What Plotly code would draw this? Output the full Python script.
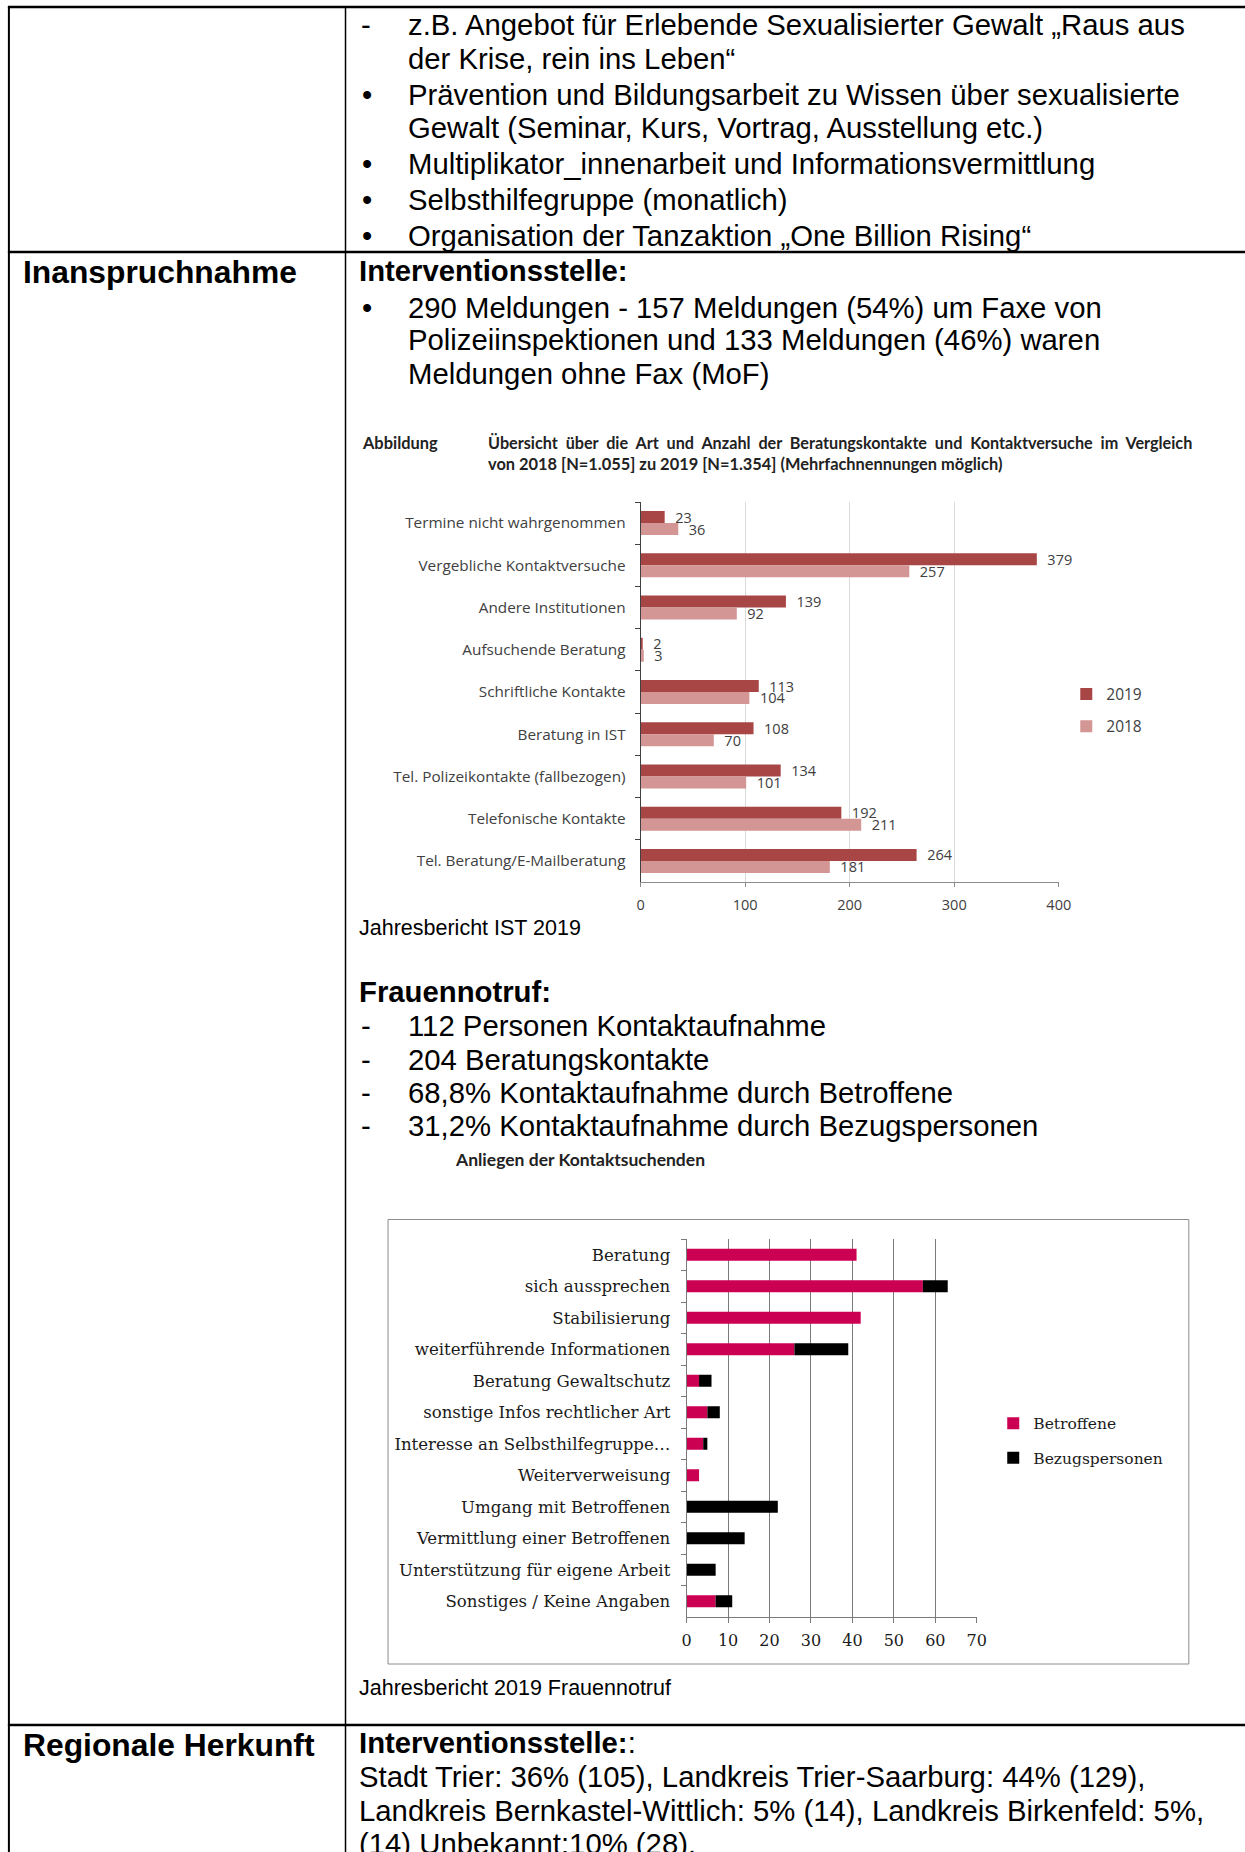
import plotly.graph_objects as go

W, H = 1245, 1852

# ---- Interventionsstelle: Beratungskontakte 2018 / 2019 ----
ist_categories = [
    "Termine nicht wahrgenommen",
    "Vergebliche Kontaktversuche",
    "Andere Institutionen",
    "Aufsuchende Beratung",
    "Schriftliche Kontakte",
    "Beratung in IST",
    "Tel. Polizeikontakte (fallbezogen)",
    "Telefonische Kontakte",
    "Tel. Beratung/E-Mailberatung",
]
ist_2019 = [23, 379, 139, 2, 113, 108, 134, 192, 264]
ist_2018 = [36, 257, 92, 3, 104, 70, 101, 211, 181]
ist_ticks = [0, 100, 200, 300, 400]

# ---- Frauennotruf: Anliegen der Kontaktsuchenden ----
fn_categories = [
    "Beratung",
    "sich aussprechen",
    "Stabilisierung",
    "weiterführende Informationen",
    "Beratung Gewaltschutz",
    "sonstige Infos rechtlicher Art",
    "Interesse an Selbsthilfegruppe…",
    "Weiterverweisung",
    "Umgang mit Betroffenen",
    "Vermittlung einer Betroffenen",
    "Unterstützung für eigene Arbeit",
    "Sonstiges / Keine Angaben",
]
fn_betroffene = [41, 57, 42, 26, 3, 5, 4, 3, 0, 0, 0, 7]
fn_bezug = [0, 6, 0, 13, 3, 3, 1, 0, 22, 14, 7, 4]
fn_ticks = [0, 10, 20, 30, 40, 50, 60, 70]

# page geometry: horizontal origin and scale of the page grid
X0, XS = 4.6, 0.986


def px(x):
    return ((x - X0) / XS) / W


def py(y):
    return 1 - y / H


SANS = "Liberation Sans"
CAL = "Lato"
OPEN = "Open Sans"
SERIF = "DejaVu Serif"
NBSP = "\u00a0"

fig = go.Figure()

# IST chart (grouped bars, 2019 above 2018)
BW1 = 0.284
fig.add_trace(go.Bar(
    y=ist_categories, x=ist_2019, orientation="h", name="2019",
    marker=dict(color="#A84646", line=dict(width=0)),
    width=BW1, offset=-BW1, texttemplate=NBSP * 2 + "%{x}",
    textposition="outside", constraintext="none", cliponaxis=False,
    textfont=dict(family=OPEN, size=14.5, color="#404040"),
    xaxis="x", yaxis="y", legend="legend", legendgroup="a",
))
fig.add_trace(go.Bar(
    y=ist_categories, x=ist_2018, orientation="h", name="2018",
    marker=dict(color="#D49595", line=dict(width=0)),
    width=BW1, offset=0, texttemplate=NBSP * 2 + "%{x}",
    textposition="outside", constraintext="none", cliponaxis=False,
    textfont=dict(family=OPEN, size=14.5, color="#404040"),
    xaxis="x", yaxis="y", legend="legend", legendgroup="b",
))

# Frauennotruf chart (stacked bars)
BW2 = 0.38
fig.add_trace(go.Bar(
    y=fn_categories, x=fn_betroffene, orientation="h", name="Betroffene",
    marker=dict(color="#CC0052", line=dict(width=0)),
    width=BW2, offset=-BW2 / 2,
    xaxis="x2", yaxis="y2", legend="legend2", legendgroup="c",
))
fig.add_trace(go.Bar(
    y=fn_categories, x=fn_bezug, base=fn_betroffene, orientation="h",
    name="Bezugspersonen",
    marker=dict(color="#000000", line=dict(width=0)),
    width=BW2, offset=-BW2 / 2,
    xaxis="x2", yaxis="y2", legend="legend2", legendgroup="d",
))

# ---- text blocks of the table ----
annotations = []


def txt(x, y, s, size=29.3, family=SANS, color="#000000", bold=False):
    if bold:
        s = "<b>" + s + "</b>"
    annotations.append(dict(
        x=px(x), y=py(y), xref="paper", yref="paper", text=s,
        showarrow=False, xanchor="left", yanchor="middle",
        font=dict(family=family, size=size, color=color),
    ))


DASH_X, BUL_X, TXT_X, COL_X = 358, 359, 405, 356.5

# row 1 (continued list)
txt(DASH_X, 25, "-")
txt(TXT_X, 25, "z.B. Angebot für Erlebende Sexualisierter Gewalt „Raus aus")
txt(TXT_X, 58, "der Krise, rein ins Leben“")
txt(BUL_X, 94.5, "•")
txt(TXT_X, 94.5, "Prävention und Bildungsarbeit zu Wissen über sexualisierte")
txt(TXT_X, 128, "Gewalt (Seminar, Kurs, Vortrag, Ausstellung etc.)")
txt(BUL_X, 164, "•")
txt(TXT_X, 164, "Multiplikator_innenarbeit und Informationsvermittlung")
txt(BUL_X, 199.5, "•")
txt(TXT_X, 199.5, "Selbsthilfegruppe (monatlich)")
txt(BUL_X, 235, "•")
txt(TXT_X, 235, "Organisation der Tanzaktion „One Billion Rising“")

# row 2: Inanspruchnahme
txt(20.5, 272, "Inanspruchnahme", size=31.8, bold=True)
txt(COL_X, 270, "Interventionsstelle:", bold=True)
txt(BUL_X, 307, "•")
txt(TXT_X, 307, "290 Meldungen - 157 Meldungen (54%) um Faxe von")
txt(TXT_X, 340, "Polizeiinspektionen und 133 Meldungen (46%) waren")
txt(TXT_X, 373, "Meldungen ohne Fax (MoF)")

# figure caption of the IST chart (first line set justified)
cap_words = ("Übersicht über die Art und Anzahl der Beratungskontakte und "
             "Kontaktversuche im Vergleich").split(" ")
txt(359, 442, "Abbildung", size=16.4, family=CAL, bold=True, color="#222222")
txt(485, 442, (" " + NBSP).join(cap_words), size=16.2, family=CAL,
    bold=True, color="#222222")
txt(485, 463, "von 2018 [N=1.055] zu 2019 [N=1.354] (Mehrfachnennungen möglich)",
    size=16.4, family=CAL, bold=True, color="#222222")

txt(COL_X, 928, "Jahresbericht IST 2019", size=21.5)

txt(COL_X, 991, "Frauennotruf:", bold=True)
fn_lines = [
    "112 Personen Kontaktaufnahme",
    "204 Beratungskontakte",
    "68,8% Kontaktaufnahme durch Betroffene",
    "31,2% Kontaktaufnahme durch Bezugspersonen",
]
for yy, line in zip([1025, 1059.5, 1092.6, 1125.7], fn_lines):
    txt(DASH_X, yy, "-")
    txt(TXT_X, yy, line)

txt(452, 1159, "Anliegen der Kontaktsuchenden", size=17.5, family=CAL,
    bold=True, color="#222222")

txt(COL_X, 1688, "Jahresbericht 2019 Frauennotruf", size=21.5)

# row 3: Regionale Herkunft
txt(20.5, 1745, "Regionale Herkunft", size=31.8, bold=True)
txt(COL_X, 1742, "<b>Interventionsstelle:</b>:")
txt(COL_X, 1776, "Stadt Trier: 36% (105), Landkreis Trier-Saarburg: 44% (129),")
txt(COL_X, 1810, "Landkreis Bernkastel-Wittlich: 5% (14), Landkreis Birkenfeld: 5%,")
txt(COL_X, 1843, "(14) Unbekannt:10% (28).")

# ---- table rules and chart frame ----
shapes = []


def hline(y, x0, x1, w):
    shapes.append(dict(type="line", xref="paper", yref="paper",
                       x0=px(x0), x1=px(x1), y0=py(y), y1=py(y),
                       line=dict(color="#000000", width=w)))


def vline(x, y0, y1, w):
    shapes.append(dict(type="line", xref="paper", yref="paper",
                       x0=px(x), x1=px(x), y0=py(y0), y1=py(y1),
                       line=dict(color="#000000", width=w)))


hline(7, 7.5, W + 20, 2.5)
hline(252, 7.5, W + 20, 2.5)
hline(1725, 7.5, W + 20, 2.5)
vline(8.5, 6, H, 2)
vline(345, 6, H, 1.5)

shapes.append(dict(type="rect", xref="paper", yref="paper",
                   x0=px(387.5), x1=px(1188), y0=py(1664), y1=py(1219.5),
                   line=dict(color="#8C8C8C", width=1)))

fig.update_layout(
    width=W, height=H,
    margin=dict(l=0, r=0, t=0, b=0),
    paper_bgcolor="white", plot_bgcolor="rgba(0,0,0,0)",
    barmode="group",
    showlegend=True,
    annotations=annotations,
    shapes=shapes,
    xaxis=dict(
        domain=[px(640), px(1058)], anchor="y", range=[0, 400],
        tickvals=ist_ticks, showgrid=True, gridcolor="#D9D9D9", gridwidth=1,
        zeroline=False, showline=True, linecolor="#8C8C8C", linewidth=1,
        ticks="outside", ticklen=4, tickcolor="#8C8C8C",
        tickfont=dict(family=OPEN, size=14.5, color="#404040"),
        ticklabelstandoff=6, fixedrange=True,
    ),
    yaxis=dict(
        domain=[py(882), py(502)], anchor="x", type="category",
        categoryorder="array", categoryarray=ist_categories,
        autorange="reversed", showgrid=False, zeroline=False,
        showline=True, linecolor="#404040", linewidth=1,
        ticks="outside", tickson="boundaries", ticklen=5,
        tickcolor="#404040",
        tickfont=dict(family=OPEN, size=15.3, color="#404040"),
        ticklabelstandoff=11, fixedrange=True,
    ),
    xaxis2=dict(
        domain=[px(686), px(976)], anchor="y2", range=[0, 70],
        tickvals=fn_ticks, showgrid=True, gridcolor="#7A7A7A", gridwidth=1,
        zeroline=False, showline=True, linecolor="#7A7A7A", linewidth=1,
        ticks="outside", ticklen=5, tickcolor="#7A7A7A",
        tickfont=dict(family=SERIF, size=16, color="#1A1A1A"),
        ticklabelstandoff=4, fixedrange=True,
    ),
    yaxis2=dict(
        domain=[py(1617), py(1239)], anchor="x2", type="category",
        categoryorder="array", categoryarray=fn_categories,
        autorange="reversed", showgrid=False, zeroline=False,
        showline=True, linecolor="#7A7A7A", linewidth=1,
        ticks="outside", tickson="boundaries", ticklen=5,
        tickcolor="#7A7A7A",
        tickfont=dict(family=SERIF, size=16.6, color="#1A1A1A"),
        ticklabelstandoff=12, fixedrange=True,
    ),
    legend=dict(
        x=px(1065.5), y=py(677.5), xanchor="left", yanchor="top",
        font=dict(family=OPEN, size=15.5, color="#404040"),
        bgcolor="rgba(0,0,0,0)", itemwidth=30, tracegroupgap=9,
        traceorder="grouped",
    ),
    legend2=dict(
        x=px(992.5), y=py(1406.6), xanchor="left", yanchor="top",
        font=dict(family=SERIF, size=15.5, color="#1A1A1A"),
        bgcolor="rgba(0,0,0,0)", itemwidth=30, tracegroupgap=11.5,
        traceorder="grouped",
    ),
)

fig.write_html("out.html", config={"displayModeBar": False})
